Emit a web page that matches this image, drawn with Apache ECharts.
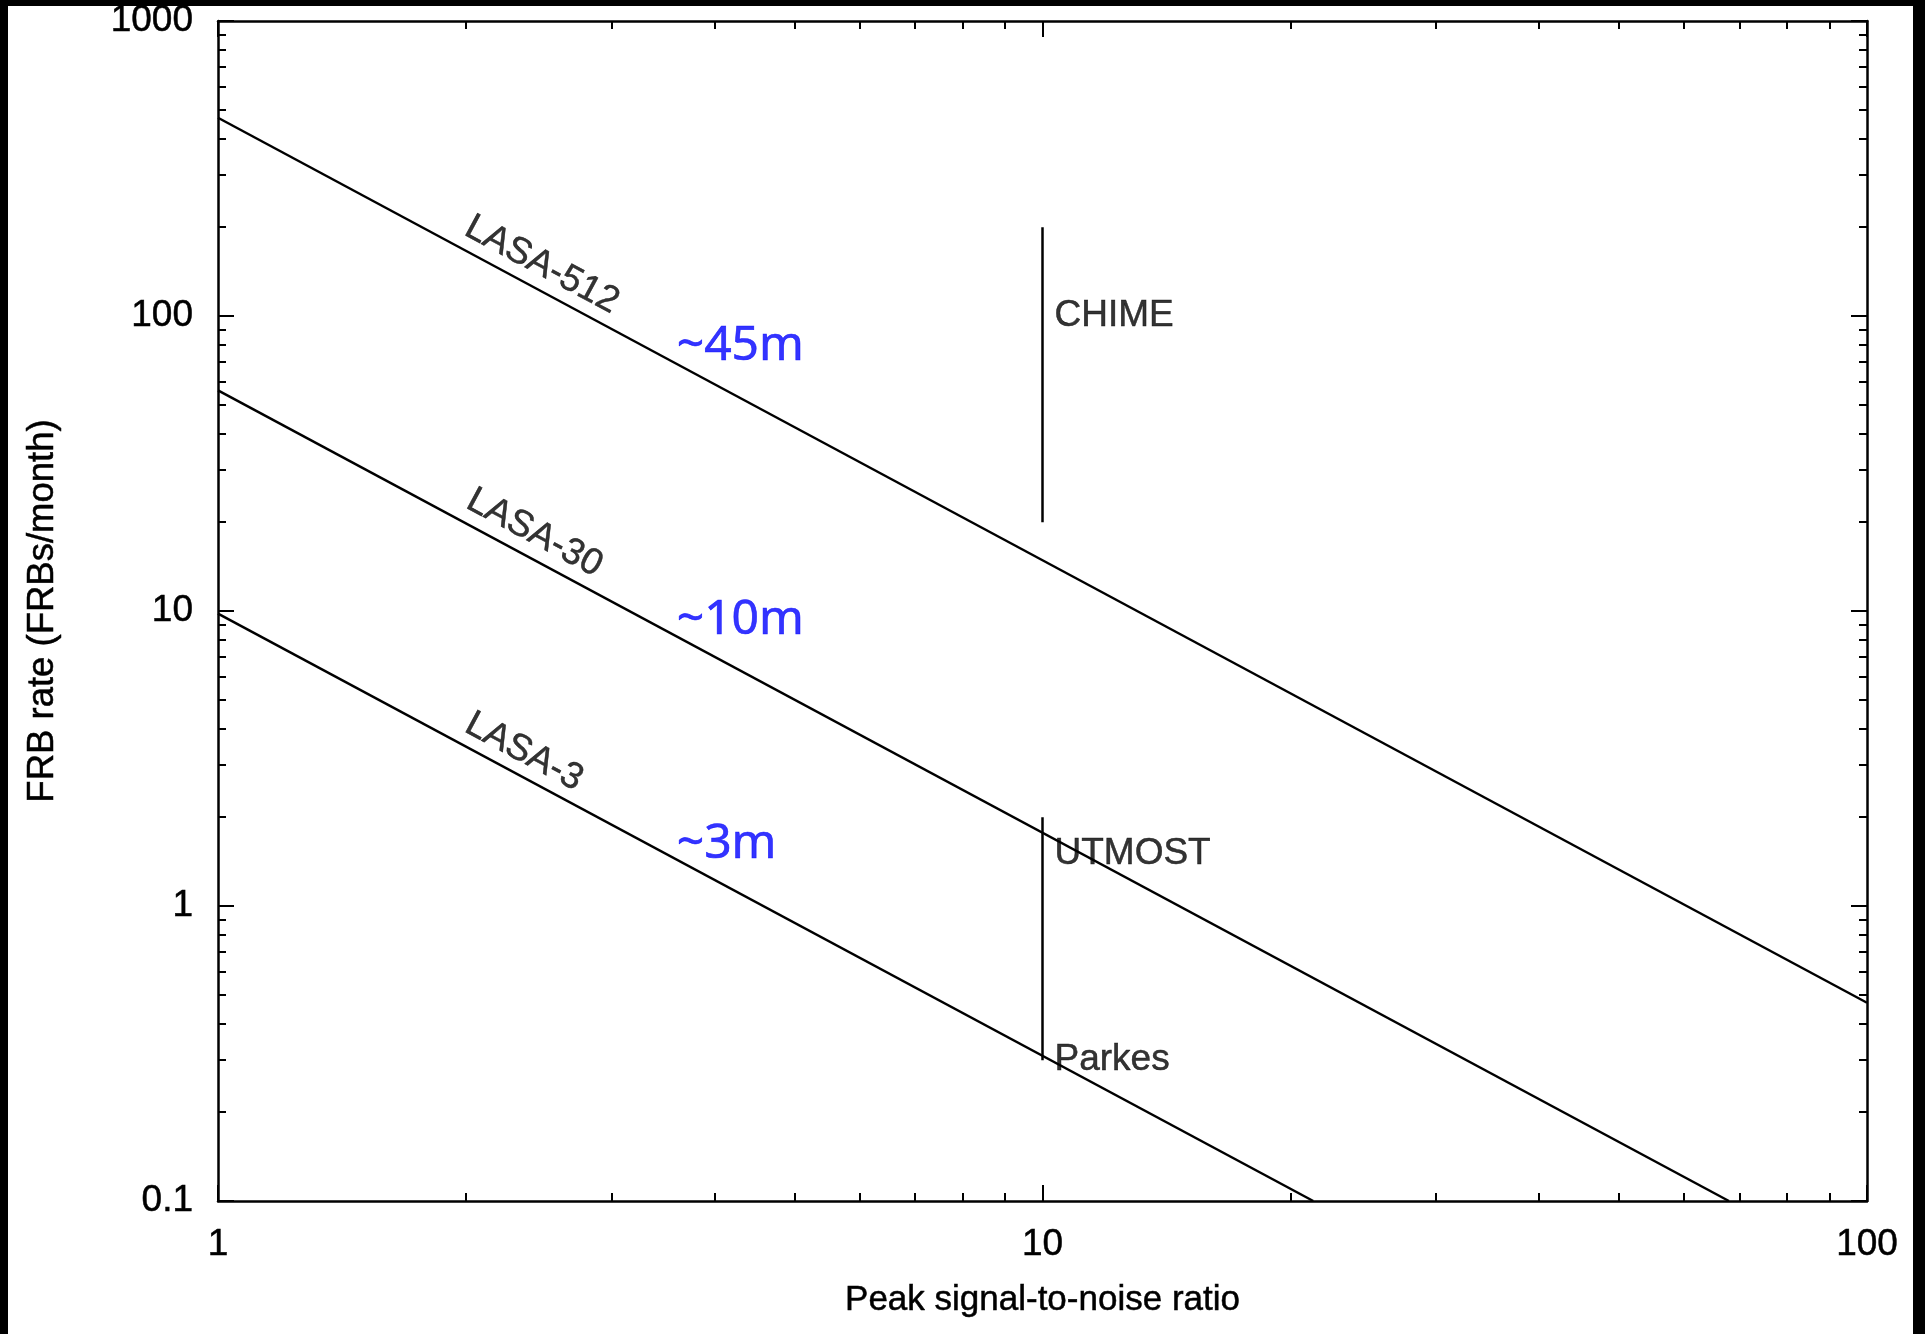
<!DOCTYPE html>
<html>
<head>
<meta charset="utf-8">
<title>FRB rate vs peak S/N</title>
<script src="https://cdn.jsdelivr.net/npm/echarts@6/dist/echarts.min.js"></script>
<style>
  html, body { margin: 0; padding: 0; background: #000; }
  #sheet { position: absolute; left: 8px; top: 6px; width: 1905px; height: 1328px; background: #fff; }
  #chart { position: absolute; left: 0; top: 0; width: 1925px; height: 1334px; }
</style>
</head>
<body>
<div id="sheet"></div>
<div id="chart"></div>
<script>
// Axis ranges and ticks
const snrRange = [1, 100];
const rateRange = [0.1, 1000];
const xMajorTicks = [1, 10, 100];
const xMinorTicks = [2, 3, 4, 5, 6, 7, 8, 9, 20, 30, 40, 50, 60, 70, 80, 90];
const yMajorTicks = [0.1, 1, 10, 100, 1000];
const yMinorTicks = [0.2, 0.3, 0.4, 0.5, 0.6, 0.7, 0.8, 0.9,
                     2, 3, 4, 5, 6, 7, 8, 9,
                     20, 30, 40, 50, 60, 70, 80, 90,
                     200, 300, 400, 500, 600, 700, 800, 900];
const xTickLabels = ['1', '10', '100'];
const yTickLabels = ['0.1', '1', '10', '100', '1000'];

// Predicted FRB rate for each array size (SNR, FRBs/month)
const lasaNames = ['LASA-512', 'LASA-30', 'LASA-3'];
const lasa512 = [[1, 470], [100, 0.47]];
const lasa30 = [[1, 56], [68, 0.1]];
const lasa3 = [[1, 9.8], [21.3, 0.1]];

// Rate ranges of existing surveys at SNR 10
const chimeRange = [[10, 20], [10, 200]];
const utmostParkesRange = [[10, 0.3], [10, 2]];
const surveyNames = ['CHIME', 'UTMOST', 'Parkes'];
const surveyLabelAt = [[10, 100], [10, 1.5], [10, 0.3]];

// Curve labels and equivalent dish sizes
const lasaLabelAt = [[2.47, 149], [2.42, 18.4], [2.35, 3.33]];
const dishNames = ['~45m', '~10m', '~3m'];
const dishLabelAt = [[3.6, 79], [3.6, 9.3], [3.6, 1.62]];

const FONT = '"Liberation Sans", Arial, Helvetica, sans-serif';
const INK = '#000';
const FS = 37;
const slopeAngle = -28.2;

// Slightly heavier strokes for black text
const inkText = { fontFamily: FONT, fontSize: FS, color: INK, textBorderColor: INK, textBorderWidth: 0.5 };

function fmt(list, labels) {
  return function (v) {
    let best = 0, d = Infinity;
    list.forEach(function (t, i) {
      const dd = Math.abs(Math.log10(t) - Math.log10(v));
      if (dd < d) { d = dd; best = i; }
    });
    return labels[best];
  };
}

function xAx(position, ticks, len, withLine, withLabels) {
  return {
    type: 'log', logBase: 10, min: snrRange[0], max: snrRange[1],
    position: position, gridIndex: 0,
    axisLine: { show: withLine, onZero: false, lineStyle: { color: INK, width: 2.5 } },
    axisTick: { show: true, inside: true, length: len, customValues: ticks,
                lineStyle: { color: INK, width: 2 } },
    axisLabel: withLabels ? Object.assign({ show: true, customValues: xMajorTicks, margin: 25,
                              formatter: fmt(xMajorTicks, xTickLabels) }, inkText) : { show: false },
    splitLine: { show: false },
    minorTick: { show: false },
    name: withLabels ? 'Peak signal-to-noise ratio' : '',
    nameLocation: 'middle', nameGap: 82,
    nameTextStyle: Object.assign({}, inkText, { fontSize: 35 })
  };
}

function yAx(position, ticks, len, withLine, withLabels) {
  return {
    type: 'log', logBase: 10, min: rateRange[0], max: rateRange[1],
    position: position, gridIndex: 0,
    axisLine: { show: withLine, onZero: false, lineStyle: { color: INK, width: 2.5 } },
    axisTick: { show: true, inside: true, length: len, customValues: ticks,
                lineStyle: { color: INK, width: 2 } },
    axisLabel: withLabels ? Object.assign({ show: true, customValues: yMajorTicks, margin: 25,
                              formatter: fmt(yMajorTicks, yTickLabels) }, inkText) : { show: false },
    splitLine: { show: false },
    minorTick: { show: false },
    name: withLabels ? 'FRB rate (FRBs/month)' : '',
    nameLocation: 'middle', nameGap: 157,
    nameTextStyle: Object.assign({}, inkText, { fontSize: 36.5 })
  };
}

function curve(name, data) {
  return {
    name: name, type: 'line', data: data, xAxisIndex: 0, yAxisIndex: 0,
    showSymbol: false, symbol: 'none', silent: true, clip: true,
    lineStyle: { color: INK, width: 2.5 }
  };
}

function textSeries(names, at, label) {
  return {
    type: 'scatter', xAxisIndex: 0, yAxisIndex: 0, symbolSize: 0, silent: true,
    data: names.map(function (n, i) { return { name: n, value: at[i] }; }),
    label: Object.assign({ show: true, formatter: '{b}' }, label)
  };
}

const chart = echarts.init(document.getElementById('chart'), null, { renderer: 'canvas' });
chart.setOption({
  backgroundColor: 'transparent',
  animation: false,
  grid: { left: 218, top: 21, right: 58, bottom: 133, containLabel: false },
  xAxis: [
    xAx('bottom', xMajorTicks, 16, true, true),
    xAx('bottom', xMinorTicks, 8, false, false),
    xAx('top', xMajorTicks, 16, true, false),
    xAx('top', xMinorTicks, 8, false, false)
  ],
  yAxis: [
    yAx('left', yMajorTicks, 16, true, true),
    yAx('left', yMinorTicks, 8, false, false),
    yAx('right', yMajorTicks, 16, true, false),
    yAx('right', yMinorTicks, 8, false, false)
  ],
  series: [
    curve(lasaNames[0], lasa512),
    curve(lasaNames[1], lasa30),
    curve(lasaNames[2], lasa3),
    curve('CHIME', chimeRange),
    curve('UTMOST-Parkes', utmostParkesRange),
    textSeries(lasaNames, lasaLabelAt, Object.assign({
      position: [0, 0], align: 'center', verticalAlign: 'middle', rotate: slopeAngle
    }, inkText)),
    textSeries(surveyNames, surveyLabelAt, Object.assign({
      position: [12, 0], align: 'left', verticalAlign: 'middle'
    }, inkText)),
    textSeries(dishNames, dishLabelAt, {
      position: [0, 0], align: 'left', verticalAlign: 'middle',
      fontFamily: '"Noto Sans", "Open Sans", sans-serif', fontSize: 48, color: '#0000ff',
      textBorderColor: '#0000ff', textBorderWidth: 0.6
    })
  ]
});
</script>
</body>
</html>
